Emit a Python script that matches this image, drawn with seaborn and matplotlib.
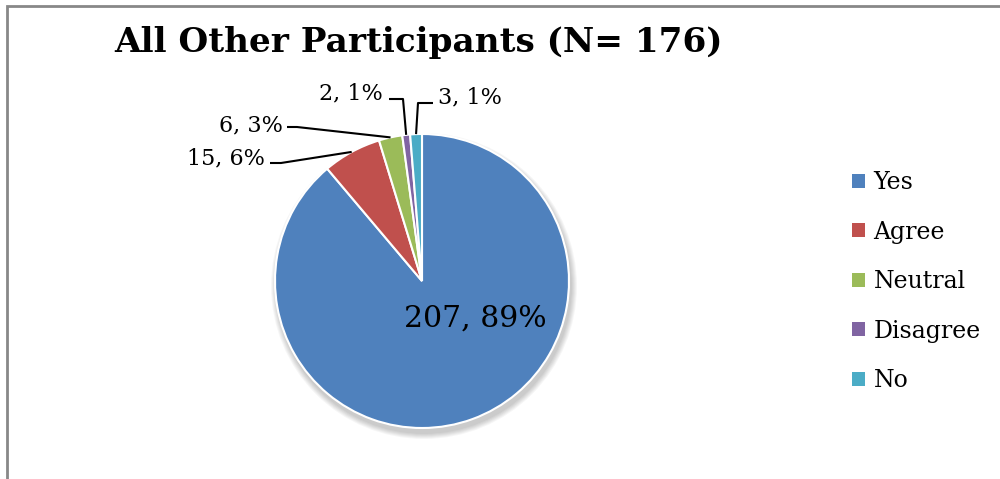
import numpy as np
import matplotlib
matplotlib.use("Agg")
import matplotlib.pyplot as plt
from matplotlib.patches import Circle, Patch
import seaborn as sns

categories = ['Yes', 'Agree', 'Neutral', 'Disagree', 'No']
counts = [207, 15, 6, 2, 3]
colors = ['#4F81BD', '#C0504D', '#9BBB59', '#8064A2', '#4BACC6']
title = 'All Other Participants (N= 176)'

sns.set_style("white")
plt.rcParams['font.family'] = ['DejaVu Serif']
plt.rcParams['text.color'] = 'black'

W, H = 1000, 479
fig = plt.figure(figsize=(10, 4.79), dpi=100)
ax = fig.add_axes([0, 0, 1, 1])


def Y(y):
    # image pixel row -> data y
    return H - y


cx, cy, r = 422, Y(281), 147

# soft shadow under the pie
for i in range(6):
    ax.add_patch(Circle((cx + 2, cy - 5), r + 1 + i, color='black',
                        alpha=0.035, lw=0, zorder=0))

wedges, _ = ax.pie(counts, colors=colors, startangle=90, counterclock=False,
                   center=(cx, cy), radius=r, frame=True,
                   wedgeprops=dict(edgecolor='white', linewidth=1.5))
ax.set_xlim(0, W)
ax.set_ylim(0, H)
ax.axis('off')

total = sum(counts)
labels = ['%d, %d%%' % (c, round(100 * c / total)) for c in counts]


def edge_point(w):
    mid = np.deg2rad((w.theta1 + w.theta2) / 2)
    return cx + r * np.cos(mid), cy + r * np.sin(mid)


# big slice label inside
ax.text(475, Y(319), labels[0], ha='center', va='center', fontsize=21.5,
        color='black')

# outside labels: text pos, leader elbow, alignment
outside = {
    1: ((265, 158), [(270, 163), (281, 163)], 'right'),
    2: ((283, 125), [(287, 127), (297, 127)], 'right'),
    3: ((383, 93), [(389, 99), (403, 99)], 'right'),
    4: ((438, 97), [(433, 103), (418, 103)], 'left'),
}
for i, ((tx, ty), pts, ha) in outside.items():
    ax.text(tx, Y(ty), labels[i], ha=ha, va='center', fontsize=16,
            color='black')
    ex, ey = edge_point(wedges[i])
    xs = [p[0] for p in pts] + [ex]
    ys = [Y(p[1]) for p in pts] + [ey]
    ax.plot(xs, ys, color='black', lw=1.5, solid_capstyle='butt')

ax.text(418, Y(42), title, ha='center', va='center', fontsize=24.7,
        fontweight='bold', color='black')

handles = [Patch(facecolor=c, edgecolor='none') for c in colors]
leg = ax.legend(handles, categories, loc='upper left', frameon=False,
                bbox_to_anchor=(0.831, 1 - 150 / H), fontsize=17,
                handlelength=0.55, handleheight=0.55, handletextpad=0.35,
                labelspacing=1.12)
for t in leg.get_texts():
    t.set_color('black')

# chart frame (only top and left visible)
ax.plot([7, 7, W], [0, Y(6), Y(6)], color='#888888', lw=2,
        solid_joinstyle='miter')

fig.savefig('out.png', dpi=100)
